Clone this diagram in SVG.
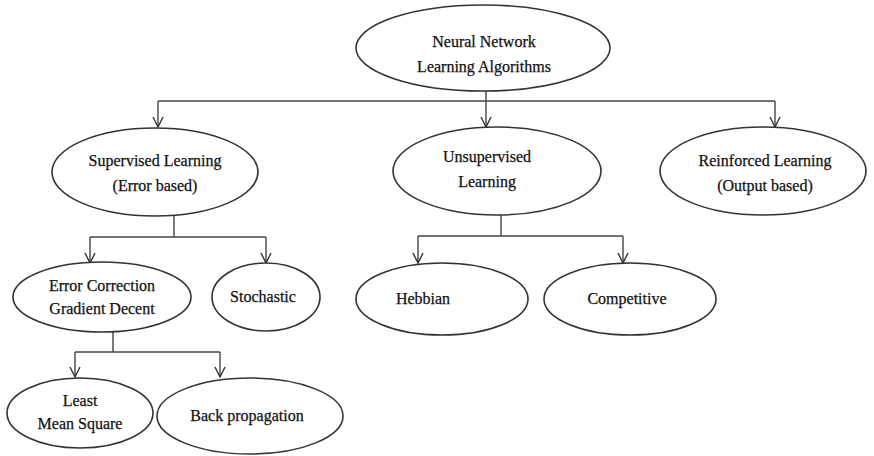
<svg xmlns="http://www.w3.org/2000/svg" width="874" height="456" viewBox="0 0 874 456">
<defs>
<marker id="arr" viewBox="0 0 12 12" refX="11" refY="6" markerWidth="12" markerHeight="12" markerUnits="userSpaceOnUse" orient="auto">
<path d="M1,1 L11,6 L1,11" fill="none" stroke="#333" stroke-width="1.4"/>
</marker>
<style>
.n ellipse{fill:#fff;stroke:#333;stroke-width:1.6}
.n text{font-family:'Liberation Serif','Times New Roman',serif;font-size:16px;fill:#111;text-anchor:middle;stroke:#111;stroke-width:0.25}
.c path{fill:none;stroke:#444;stroke-width:1.4}
.c .a{marker-end:url(#arr)}
</style>
</defs>
<rect width="874" height="456" fill="#fff"/>
<g id="connectors" class="c">
<path d="M486,91 V101"/>
<path d="M158,101 H775"/>
<path class="a" d="M158,101 V127"/>
<path class="a" d="M486,101 V127"/>
<path class="a" d="M775,101 V127"/>
<path d="M174,215 V237"/>
<path d="M90,237 H266"/>
<path class="a" d="M90,237 V263"/>
<path class="a" d="M266,237 V263"/>
<path d="M501,215 V236"/>
<path d="M418,236 H623"/>
<path class="a" d="M418,236 V263"/>
<path class="a" d="M623,236 V263"/>
<path d="M113,332 V352"/>
<path d="M75,352 H220"/>
<path class="a" d="M75,352 V377"/>
<path class="a" d="M220,352 V377"/>
</g>
<g id="root" class="n" font-family="Liberation Serif, serif"><ellipse cx="483" cy="48" rx="127" ry="43"/><text x="484" y="47">Neural Network</text><text x="484" y="72">Learning Algorithms</text></g>
<g id="supervised" class="n"><ellipse cx="155" cy="172" rx="103" ry="44"/><text x="155" y="166">Supervised Learning</text><text x="155" y="191">(Error based)</text></g>
<g id="unsupervised" class="n"><ellipse cx="497" cy="171" rx="104" ry="44"/><text x="487" y="162">Unsupervised</text><text x="487" y="187">Learning</text></g>
<g id="reinforced" class="n"><ellipse cx="763" cy="171" rx="103" ry="44"/><text x="765" y="166">Reinforced Learning</text><text x="765" y="191">(Output based)</text></g>
<g id="errorcorr" class="n"><ellipse cx="102" cy="297" rx="89" ry="35"/><text x="102" y="291">Error Correction</text><text x="102" y="314">Gradient Decent</text></g>
<g id="stochastic" class="n"><ellipse cx="266" cy="297" rx="54" ry="34"/><text x="263" y="302">Stochastic</text></g>
<g id="hebbian" class="n"><ellipse cx="442" cy="299" rx="86" ry="36"/><text x="423" y="304">Hebbian</text></g>
<g id="competitive" class="n"><ellipse cx="630" cy="299" rx="86" ry="36"/><text x="627" y="304">Competitive</text></g>
<g id="lms" class="n"><ellipse cx="80" cy="413" rx="73" ry="35"/><text x="80" y="406">Least</text><text x="80" y="429">Mean Square</text></g>
<g id="backprop" class="n"><ellipse cx="250" cy="416" rx="93" ry="38"/><text x="247" y="421">Back propagation</text></g>
</svg>
